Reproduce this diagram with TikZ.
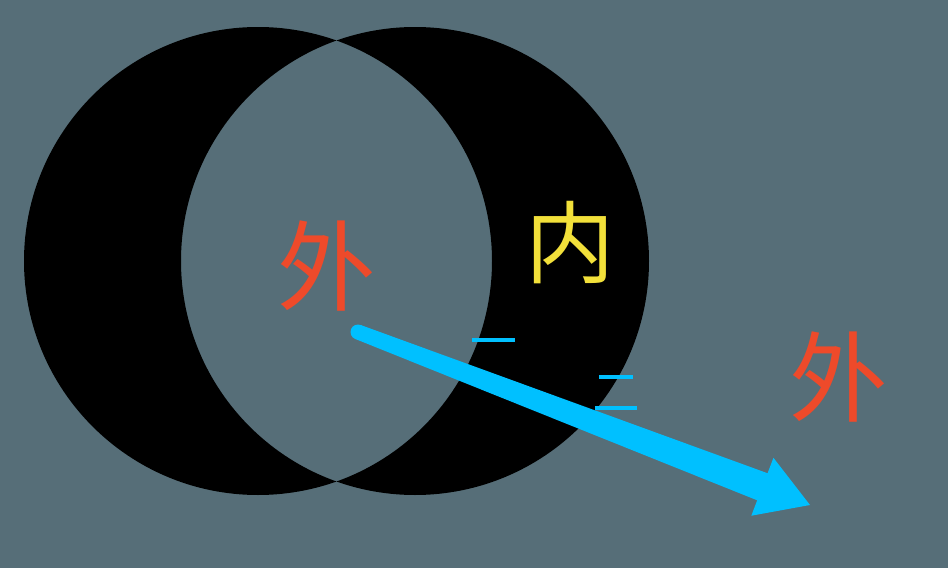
\documentclass[tikz,border=0pt]{standalone}
\usepackage{fontspec}
\usepackage{tikz}
\usetikzlibrary{arrows.meta,positioning,calc}
\newfontfamily\cjk{Noto Sans CJK SC}
\definecolor{slate}{HTML}{566E78}
\definecolor{waired}{HTML}{EE4A2A}
\definecolor{neiyellow}{HTML}{F2E03A}
\definecolor{skyblue}{HTML}{00C0FF}
\begin{document}
\begin{tikzpicture}[
			x=0.02cm,y=-0.02cm,
			wai/.style={text=waired,inner sep=0pt,font=\cjk\fontsize{56}{56}\selectfont},
			nei/.style={text=neiyellow,inner sep=0pt,font=\cjk\fontsize{51}{51}\selectfont},
			arr/.style={fill=skyblue},
			tick/.style={skyblue,line width=0.08cm}
			]
			\fill[slate] (0,0) rectangle (948,568);
			\useasboundingbox (0,0) rectangle (948,568);
			% the two discs, lens left open
			\fill[black,even odd rule] (258,261) circle[radius=234] (415,261) circle[radius=234];
			\node[wai] (w1) at (327,266) {外};
			\node[nei] (n) at (570,243) {内};
			\node[wai] (w2) at (839,377) {外};
			% widening arrow
			\coordinate (s) at (358,332);
			\coordinate (t) at (810,505);
			\coordinate (hb) at ($(t)!1.02cm!(s)$);
			\fill[arr] ($(s)!0.15cm!90:(t)$) -- ($(hb)!0.29cm!90:(t)$) -- ($(hb)!0.62cm!90:(t)$) -- (t)
				-- ($(hb)!0.62cm!-90:(t)$) -- ($(hb)!0.29cm!-90:(t)$) -- ($(s)!0.15cm!-90:(t)$) -- cycle;
			\fill[arr] (s) circle[radius=7.5];
			\coordinate (a1) at (472,340); \coordinate (a2) at (515,340);
			\coordinate (b1) at (599,377); \coordinate (b2) at (633,377);
			\coordinate (c1) at (595,408); \coordinate (c2) at (637,408);
			\draw[tick] (a1)--(a2);
			\draw[tick] (b1)--(b2); \draw[tick] (c1)--(c2);
		\end{tikzpicture}
\end{document}
